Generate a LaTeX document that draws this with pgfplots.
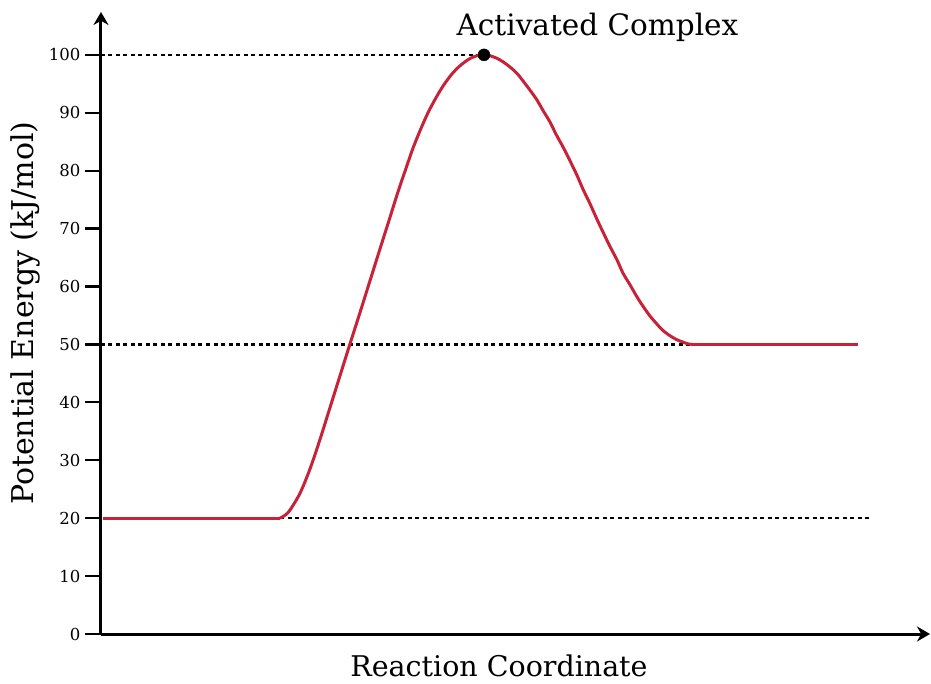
\documentclass[border=0pt]{standalone}
\usepackage{pgfplots}
\pgfplotsset{compat=1.18}
\usepackage{fontspec}
\setmainfont{DejaVu Serif}
\usetikzlibrary{arrows.meta}
\definecolor{curvered}{RGB}{200,34,56}

\pgfplotstableread{
x y
179 20
184 20.5
189 21.4
199 24.3
209 28.5
219 33.6
229 39.1
239 44.6
249 50.1
259 55.5
269 61.0
279 66.5
288 71.4
297 76.35
305 80.4
312 83.9
320 87.3
327 90.0
335 92.6
342 94.6
350 96.5
357 97.8
364 98.8
370 99.46
377 99.9
383 100
389 99.85
396 99.4
402 98.8
409 97.9
416 96.8
422 95.5
429 93.9
436 92.2
442 90.4
449 88.4
455 86.3
462 84.1
469 81.7
476 79.2
482 76.8
489 74.3
496 71.6
502 69.4
509 66.9
516 64.6
522 62.3
529 60.3
536 58.2
542 56.6
549 54.9
556 53.5
562 52.4
569 51.5
576 50.8
582 50.4
587 50.1
592 50
}\curve

\begin{document}
\begin{tikzpicture}
\useasboundingbox (-101pt,-49pt) rectangle (830pt,634pt);
\begin{axis}[
  scale only axis,
  width=829pt, height=622pt,
  xmin=0, xmax=829, ymin=0, ymax=107.4,
  enlargelimits=false,
  axis lines=left,
  axis line style={line width=3pt, -{Stealth[length=13pt,width=15pt]}},
  xtick=\empty,
  ytick={0,10,...,100},
  tick align=outside,
  major tick length=16pt,
  tick style={line width=2.2pt, black},
  y tick label style={font=\fontsize{16.5}{18}\selectfont, /pgf/number format/assume math mode=true, xshift=-1pt},
  clip=false,
]
% dotted guide lines
\addplot[black, line width=2.6pt, dash pattern=on 4pt off 3.5pt] coordinates {(0,100) (383,100)};
\addplot[black, line width=2.6pt, dash pattern=on 4pt off 3.5pt] coordinates {(0,50) (592,50)};
\addplot[black, line width=2.6pt, dash pattern=on 4pt off 3.5pt] coordinates {(179,20) (769,20)};
% energy curve
\addplot[curvered, line width=3pt] coordinates {(2,20) (179,20)};
\addplot[curvered, line width=3pt, smooth, tension=0.5] table[x=x,y=y] {\curve};
\addplot[curvered, line width=3pt] coordinates {(592,50) (757,50)};
% activated complex
\addplot[only marks, mark=*, mark size=6pt, black] coordinates {(383,100)};
\node[font=\fontsize{29.5}{32}\selectfont] at (axis cs:496.5,104.8) {Activated Complex};
\node[font=\fontsize{28.5}{32}\selectfont, anchor=base] at (axis cs:398,-7.4) {Reaction Coordinate};
\node[font=\fontsize{30}{32}\selectfont, rotate=90] at (axis cs:-76,55.4) {Potential Energy (kJ/mol)};
\end{axis}
\end{tikzpicture}
\end{document}
